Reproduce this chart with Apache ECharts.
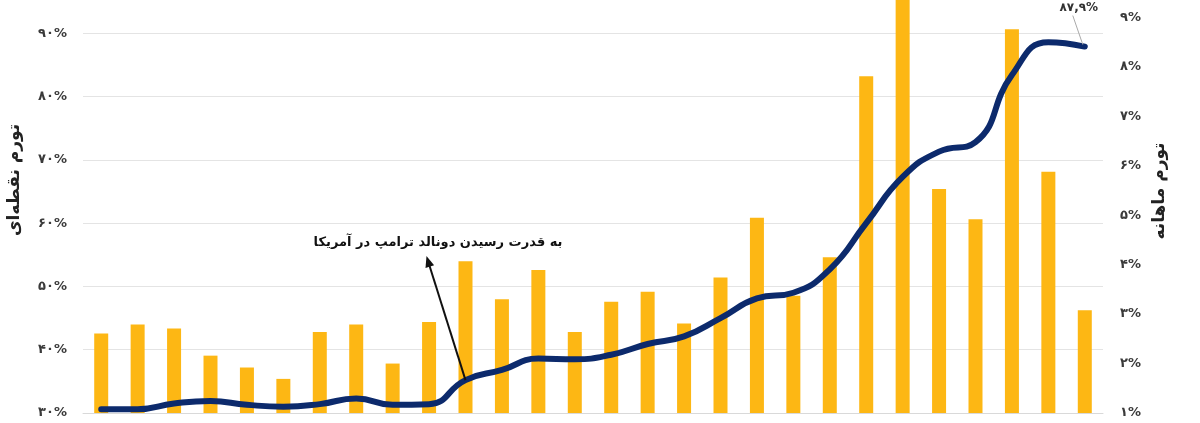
<!DOCTYPE html>
<html><head><meta charset="utf-8">
<script src="https://cdn.jsdelivr.net/npm/echarts@6/dist/echarts.min.js"></script>
<style>html,body{margin:0;padding:0;background:#fff;overflow:hidden;width:1200px;height:423px}#c{position:absolute;left:0;top:-30px;width:1200px;height:453px}</style>
</head><body><div id="c"></div>
<script>
// ---- data ----
const categories = ['1','2','3','4','5','6','7','8','9','10','11','12','13','14','15','16','17','18','19','20','21','22','23','24','25','26','27','28'];
const monthlyInflation = [2.61,2.79,2.71,2.16,1.92,1.69,2.64,2.79,2.00,2.84,4.07,3.30,3.89,2.64,3.25,3.45,2.81,3.74,4.95,3.37,4.15,7.81,9.70,5.53,4.92,8.76,5.88,3.08];
const pointInflation = [30.6,30.6,31.5,31.9,31.3,31.0,31.4,32.3,31.3,31.4,35.2,36.8,38.6,38.5,39.2,40.9,42.1,45.0,48.1,49.0,52.7,60.0,67.3,71.3,72.8,83.4,88.6,87.9];
const leftAxisTicks = {min:30, max:100, interval:10};
const rightAxisTicks = {min:1, max:9.96, interval:1};
const leftAxisName = 'تورم نقطه‌ای';
const rightAxisName = 'تورم ماهانه';
const annotationText = 'به قدرت رسیدن دونالد ترامپ در آمریکا';
const annotationIndex = 10;

const faDigits = '۰۱۲۳۴۵۶۷۸۹';
function fa(s){ return String(s).replace(/[0-9]/g, d => faDigits[+d]).replace('.', ','); }

const OY = 30; // container is shifted up by 30px
const chart = echarts.init(document.getElementById('c'), null, {renderer:'canvas'});
const FONT = '"DejaVu Sans", sans-serif';
chart.setOption({
  animation:false,
  backgroundColor:'#fff',
  textStyle:{fontFamily:FONT},
  grid:{left:83, right:97, top:0, bottom:10, containLabel:false},
  xAxis:{type:'category', data:categories, boundaryGap:true,
    axisLine:{show:true, lineStyle:{color:'#d9d9d9', width:1}},
    axisTick:{show:false}, axisLabel:{show:false}, splitLine:{show:false}},
  yAxis:[
    {type:'value', position:'left', min:leftAxisTicks.min, max:leftAxisTicks.max, interval:leftAxisTicks.interval,
     axisLine:{show:false}, axisTick:{show:false},
     splitLine:{show:true, lineStyle:{color:'#e4e4e4', width:1}},
     axisLabel:{formatter:v=>fa(v)+'%', color:'#3a3a3a', fontSize:13, fontWeight:'bold', margin:16, fontFamily:FONT, showMaxLabel:false}},
    {type:'value', position:'right', min:rightAxisTicks.min, max:rightAxisTicks.max, interval:rightAxisTicks.interval,
     axisLine:{show:false}, axisTick:{show:false}, splitLine:{show:false},
     axisLabel:{formatter:v=>fa(v)+'%', color:'#3a3a3a', fontSize:13, fontWeight:'bold', margin:17, fontFamily:FONT, showMaxLabel:false}}
  ],
  series:[
    {type:'bar', yAxisIndex:1, data:monthlyInflation, barWidth:14, itemStyle:{color:'#FDB714'}, z:2},
    {type:'line', yAxisIndex:0, data:pointInflation, smooth:0.5, showSymbol:false, symbol:'none',
     lineStyle:{color:'#0C2A6C', width:6, cap:'round', join:'round'}, z:3}
  ]
});

// annotations positioned from data
const pA = chart.convertToPixel({seriesIndex:1}, [annotationIndex, pointInflation[annotationIndex]]);
const last = pointInflation.length-1;
const pL = chart.convertToPixel({seriesIndex:1}, [last, pointInflation[last]]);
const tip = [pA[0]-39, pA[1]-124];
const dx = tip[0]-pA[0], dy = tip[1]-pA[1], len = Math.hypot(dx,dy);
const ux = dx/len, uy = dy/len, nx = -uy, ny = ux;
const hl = 11, hw = 4.5;
const base = [tip[0]-ux*hl, tip[1]-uy*hl];
chart.setOption({
  graphic:[
    {type:'line', shape:{x1:pA[0], y1:pA[1], x2:base[0]+ux*2, y2:base[1]+uy*2}, style:{stroke:'#111', lineWidth:2}, z:10},
    {type:'polygon', shape:{points:[tip, [base[0]+nx*hw, base[1]+ny*hw], [base[0]-nx*hw, base[1]-ny*hw]]}, style:{fill:'#111'}, z:10},
    {type:'text', x:438, y:243+OY, style:{text:annotationText, font:'bold 13px '+FONT, fill:'#111', align:'center', verticalAlign:'middle'}, z:10},
    {type:'line', shape:{x1:pL[0]-12, y1:pL[1]-31, x2:pL[0]-2, y2:pL[1]-2}, style:{stroke:'#aaa', lineWidth:1}, z:10},
    {type:'text', x:pL[0]-6, y:pL[1]-39, style:{text:fa(pointInflation[last])+'%', font:'bold 12px '+FONT, fill:'#333', align:'center', verticalAlign:'middle'}, z:10},
    {type:'text', x:15, y:180+OY, rotation:Math.PI/2, style:{text:leftAxisName, font:'bold 17px '+FONT, fill:'#222', align:'center', verticalAlign:'middle'}},
    {type:'text', x:1160, y:191+OY, rotation:Math.PI/2, style:{text:rightAxisName, font:'bold 17px '+FONT, fill:'#222', align:'center', verticalAlign:'middle'}}
  ]
});
</script></body></html>
